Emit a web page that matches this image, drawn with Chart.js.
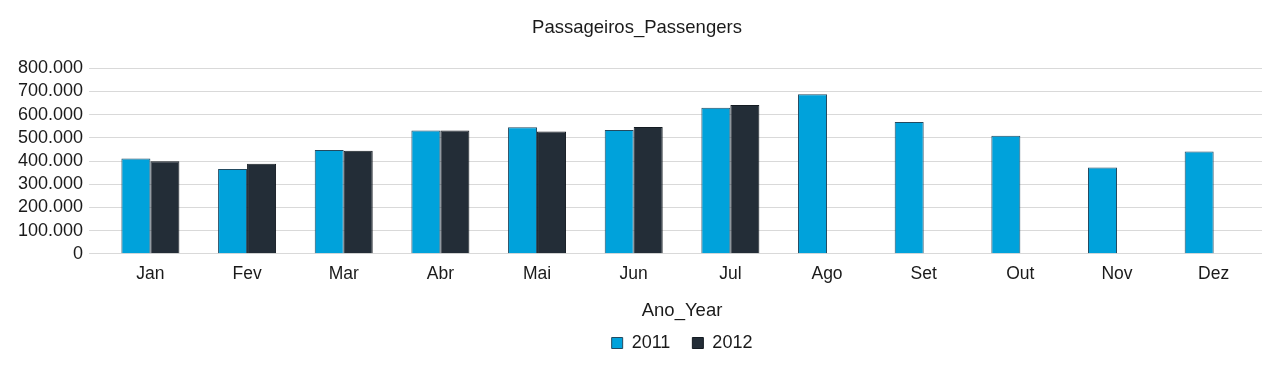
<!DOCTYPE html>
<html>
<head>
<meta charset="utf-8">
<script src="https://cdn.jsdelivr.net/npm/chart.js@4"></script>
<style>
  html, body { margin: 0; padding: 0; background: #fff; }
</style>
</head>
<body>
<canvas id="grafica" width="1281" height="371"></canvas>
<script>
const meses = ["Jan", "Fev", "Mar", "Abr", "Mai", "Jun", "Jul", "Ago", "Set", "Out", "Nov", "Dez"];
const pax2011 = [411000, 365000, 447000, 532000, 545000, 534000, 629000, 688000, 568000, 509000, 372000, 441000];
const pax2012 = [399000, 388000, 444000, 531000, 527000, 547000, 641000, null, null, null, null, null];
const ticksY = [0, 100000, 200000, 300000, 400000, 500000, 600000, 700000, 800000];

const fonte = "'Liberation Sans', Arial, sans-serif";
const corTexto = "#1a1a1a";

// separador de milhar com ponto
const formatar = v => String(v).replace(/\B(?=(\d{3})+(?!\d))/g, ".");

new Chart(document.getElementById("grafica"), {
  type: "bar",
  data: {
    labels: meses,
    datasets: [{
      label: "2011",
      data: pax2011,
      backgroundColor: "#00a2db",
      borderColor: "#234a60",
      borderWidth: 1
    }, {
      label: "2012",
      data: pax2012,
      backgroundColor: "#232d37",
      borderColor: "#141b22",
      borderWidth: 1
    }]
  },
  options: {
    responsive: false,
    animation: false,
    devicePixelRatio: 1,
    layout: { padding: { left: 12, right: 19, top: 0, bottom: 9 } },
    datasets: { bar: { barPercentage: 1, categoryPercentage: 0.6 } },
    plugins: {
      title: {
        display: true,
        text: "Passageiros_Passengers",
        color: corTexto,
        font: { family: fonte, size: 18.5, weight: "normal" },
        padding: { top: 17, bottom: 29 }
      },
      legend: {
        position: "bottom",
        fullSize: false,
        labels: {
          color: corTexto,
          font: { family: fonte, size: 18 },
          boxWidth: 11,
          boxHeight: 11,
          padding: 12,
          // um pouco mais de espaço entre os itens
          generateLabels: chart => {
            const itens = Chart.defaults.plugins.legend.labels.generateLabels(chart);
            itens.forEach((it, i) => { if (i < itens.length - 1) it.text += "  "; });
            return itens;
          }
        }
      },
      tooltip: { enabled: false }
    },
    scales: {
      x: {
        grid: { display: false },
        border: { display: false },
        ticks: { color: corTexto, font: { family: fonte, size: 17.5 }, padding: 2 },
        title: {
          display: true,
          text: "Ano_Year",
          color: corTexto,
          font: { family: fonte, size: 18.5 },
          padding: { top: 13, bottom: 0 }
        }
      },
      y: {
        min: 0,
        max: 800000,
        afterBuildTicks: axis => { axis.ticks = ticksY.map(v => ({ value: v })); },
        grid: { color: "#d9d9d9", lineWidth: 1, tickLength: 13, drawTicks: true },
        border: { display: false },
        ticks: {
          color: corTexto,
          font: { family: fonte, size: 18 },
          padding: 6,
          autoSkip: false,
          callback: v => formatar(v)
        }
      }
    }
  }
});
</script>
</body>
</html>
